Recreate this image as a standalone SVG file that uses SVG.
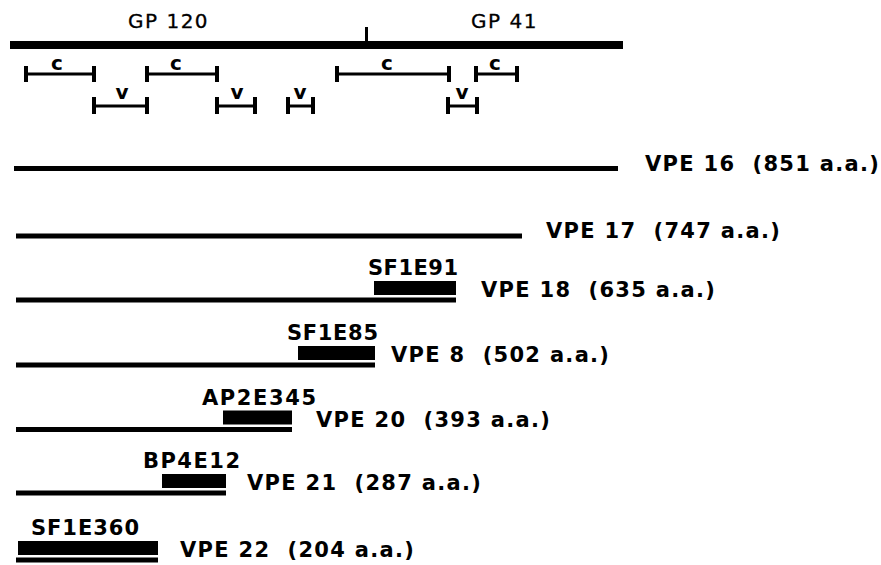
<svg xmlns="http://www.w3.org/2000/svg" width="881" height="565" viewBox="0 0 881 565">
<style>
.bg{fill:#fff}
.ink{fill:#000}
.gp{font-family:"DejaVu Sans","Liberation Sans",sans-serif;font-size:20px;letter-spacing:1.5px;fill:#000;stroke:#000;stroke-width:0.3}
.cv{font-family:"DejaVu Sans","Liberation Sans",sans-serif;font-weight:bold;font-size:20px;fill:#000;text-anchor:middle}
.lbl{font-family:"DejaVu Sans","Liberation Sans",sans-serif;font-weight:bold;font-size:21px;fill:#000}
.vpe{font-family:"DejaVu Sans","Liberation Sans",sans-serif;font-weight:bold;font-size:21px;letter-spacing:1.3px;fill:#000;white-space:pre}
.br{stroke:#000;stroke-width:3;fill:none}
.tk{stroke:#000;stroke-width:4;fill:none}
</style>
<rect class="bg" x="0" y="0" width="881" height="565"/>

<g id="env-map">
  <text class="gp" x="128" y="28">GP 120</text>
  <text class="gp" x="471" y="28">GP 41</text>
  <rect class="ink" x="10" y="41" width="613" height="8"/>
  <rect class="ink" x="365" y="27" width="3" height="14"/>
</g>

<g id="domains">
  <g id="c1"><path class="br" d="M26 74H94"/><path class="tk" d="M26 66V82M94 66V82"/><text class="cv" x="57" y="70">c</text></g>
  <g id="c2"><path class="br" d="M147 74H217"/><path class="tk" d="M147 66V82M217 66V82"/><text class="cv" x="176" y="70">c</text></g>
  <g id="c3"><path class="br" d="M337 74H449"/><path class="tk" d="M337 66V82M449 66V82"/><text class="cv" x="387" y="70">c</text></g>
  <g id="c4"><path class="br" d="M476 74H517"/><path class="tk" d="M476 66V82M517 66V82"/><text class="cv" x="495" y="70">c</text></g>
  <g id="v1"><path class="br" d="M94 106H147"/><path class="tk" d="M94 97V114M147 97V114"/><text class="cv" x="122" y="99">v</text></g>
  <g id="v2"><path class="br" d="M217 106H255"/><path class="tk" d="M217 97V114M255 97V114"/><text class="cv" x="237" y="99">v</text></g>
  <g id="v3"><path class="br" d="M288 106H313"/><path class="tk" d="M288 97V114M313 97V114"/><text class="cv" x="300" y="99">v</text></g>
  <g id="v4"><path class="br" d="M448 106H477"/><path class="tk" d="M448 97V114M477 97V114"/><text class="cv" x="462" y="99">v</text></g>
</g>

<g id="connectors"></g>

<g id="vpe16">
  <rect class="ink" x="14" y="166" width="604" height="5"/>
  <text class="vpe" x="645" y="171">VPE 16  (851 a.a.)</text>
</g>

<g id="vpe17">
  <rect class="ink" x="16" y="233.5" width="506" height="5"/>
  <text class="vpe" x="546" y="238">VPE 17  (747 a.a.)</text>
</g>

<g id="vpe18">
  <rect class="ink" x="16" y="297.5" width="440" height="5"/>
  <rect class="ink" x="374" y="281" width="82" height="14"/>
  <text class="lbl" x="368" y="275" textLength="90" lengthAdjust="spacing">SF1E91</text>
  <text class="vpe" x="481" y="297">VPE 18  (635 a.a.)</text>
</g>

<g id="vpe8">
  <rect class="ink" x="16" y="362.5" width="359" height="5"/>
  <rect class="ink" x="298" y="346" width="77" height="14"/>
  <text class="lbl" x="287" y="340" textLength="91" lengthAdjust="spacing">SF1E85</text>
  <text class="vpe" x="391" y="362">VPE 8  (502 a.a.)</text>
</g>

<g id="vpe20">
  <rect class="ink" x="16" y="427" width="276" height="5"/>
  <rect class="ink" x="223" y="410.5" width="69" height="14"/>
  <text class="lbl" x="202" y="404.5" textLength="114" lengthAdjust="spacing">AP2E345</text>
  <text class="vpe" x="316" y="426.5">VPE 20  (393 a.a.)</text>
</g>

<g id="vpe21">
  <rect class="ink" x="16" y="490.5" width="210" height="5"/>
  <rect class="ink" x="162" y="474" width="64" height="14"/>
  <text class="lbl" x="143" y="468" textLength="97" lengthAdjust="spacing">BP4E12</text>
  <text class="vpe" x="247" y="490">VPE 21  (287 a.a.)</text>
</g>

<g id="vpe22">
  <rect class="ink" x="16" y="557.5" width="142" height="5"/>
  <rect class="ink" x="18" y="541" width="140" height="14"/>
  <text class="lbl" x="31" y="535" textLength="108" lengthAdjust="spacing">SF1E360</text>
  <text class="vpe" x="180" y="557">VPE 22  (204 a.a.)</text>
</g>
</svg>
